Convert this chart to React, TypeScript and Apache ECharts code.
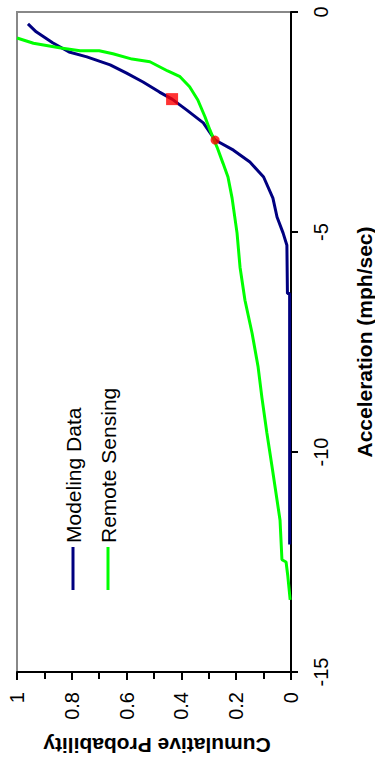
import React, { useEffect, useRef } from "react";
import * as echarts from "echarts";

const modelingProb = [0.96, 0.93, 0.87, 0.81, 0.745, 0.66, 0.6, 0.54, 0.48, 0.434, 0.38, 0.32, 0.277, 0.21, 0.15, 0.1, 0.066, 0.051, 0.029, 0.015, 0.013, 0.005, 0.005];
const modelingAccel = [-0.27, -0.45, -0.7, -0.91, -1.02, -1.2, -1.39, -1.59, -1.82, -1.98, -2.23, -2.52, -2.91, -3.14, -3.41, -3.75, -4.23, -4.66, -5.02, -5.3, -6.4, -6.4, -12.1];

const remoteProb = [1.0, 0.94, 0.84, 0.77, 0.7, 0.65, 0.58, 0.515, 0.45, 0.405, 0.37, 0.34, 0.314, 0.296, 0.27, 0.248, 0.23, 0.215, 0.197, 0.186, 0.168, 0.142, 0.12, 0.106, 0.088, 0.069, 0.051, 0.04, 0.033, 0.018, 0.012, 0.003];
const remoteAccel = [-0.59, -0.71, -0.82, -0.88, -0.88, -0.95, -1.07, -1.13, -1.34, -1.47, -1.7, -2.0, -2.38, -2.68, -3.07, -3.44, -3.75, -4.23, -5.02, -5.8, -6.55, -7.3, -8.07, -8.77, -9.57, -10.34, -11.09, -11.55, -12.45, -12.5, -12.8, -13.36];

const squareMarker = [0.434, -1.98];
const circleMarker = [0.277, -2.91];

const seriesNames = ["Modeling Data", "Remote Sensing"];
const seriesColors = ["#000080", "#00FF00"];

const xAxisTitle = "Cumulative Probability";
const yAxisTitle = "Acceleration (mph/sec)";

const FONT = "'Liberation Sans', Arial, sans-serif";

export default function App() {
  const ref = useRef<HTMLDivElement>(null);
  useEffect(() => {
    if (!ref.current) return;
    const chart = echarts.init(ref.current, null, { renderer: "svg" });
    const modeling = modelingProb.map((p, i) => [p, modelingAccel[i]]);
    const remote = remoteProb.map((p, i) => [p, remoteAccel[i]]);

    const legendItems = seriesNames.map((name, i) => ({
      type: "group",
      x: 73 + i * 35,
      y: 590,
      rotation: Math.PI / 2,
      children: [
        {
          type: "line",
          shape: { x1: 0, y1: 0, x2: 43, y2: 0 },
          style: { stroke: seriesColors[i], lineWidth: 3 },
        },
        {
          type: "text",
          x: 47,
          y: 0,
          style: {
            text: name,
            fontSize: 21,
            fontFamily: FONT,
            fill: "#000",
            align: "left",
            verticalAlign: "middle",
          },
        },
      ],
    }));

    chart.setOption({
      animation: false,
      backgroundColor: "#fff",
      grid: {
        left: 17,
        top: 12,
        right: 84,
        bottom: 89,
        show: true,
        borderColor: "#888",
        borderWidth: 2,
        backgroundColor: "#fff",
      },
      xAxis: {
        type: "value",
        min: 0,
        max: 1,
        interval: 0.2,
        inverse: true,
        position: "bottom",
        axisLine: { onZero: false, lineStyle: { color: "#000", width: 2 } },
        axisTick: { length: 8, lineStyle: { color: "#000", width: 2 } },
        minorTick: { show: true, splitNumber: 2, length: 7, lineStyle: { color: "#000", width: 2 } },
        splitLine: { show: false },
        axisLabel: {
          rotate: 90,
          margin: 20,
          fontSize: 20,
          fontFamily: FONT,
          color: "#000",
        },
      },
      yAxis: {
        type: "value",
        min: -15,
        max: 0,
        interval: 5,
        position: "right",
        axisLine: { show: true, onZero: false, lineStyle: { color: "#000", width: 2 } },
        axisTick: { show: true, length: 7, lineStyle: { color: "#000", width: 2 } },
        splitLine: { show: false },
        axisLabel: {
          rotate: 90,
          margin: 20,
          fontSize: 20,
          fontFamily: FONT,
          color: "#000",
        },
      },
      series: [
        {
          name: seriesNames[0],
          type: "line",
          data: modeling,
          showSymbol: false,
          lineStyle: { color: seriesColors[0], width: 3 },
          itemStyle: { color: seriesColors[0] },
          z: 2,
        },
        {
          name: seriesNames[1],
          type: "line",
          data: remote,
          showSymbol: false,
          lineStyle: { color: seriesColors[1], width: 3 },
          itemStyle: { color: seriesColors[1] },
          z: 3,
        },
        {
          type: "scatter",
          data: [squareMarker],
          symbol: "rect",
          symbolSize: 12,
          itemStyle: { color: "#FF0000" },
          z: 4,
        },
        {
          type: "scatter",
          data: [circleMarker],
          symbol: "circle",
          symbolSize: 9,
          itemStyle: { color: "#FF0000" },
          z: 4,
        },
      ],
      graphic: [
        {
          type: "text",
          x: 364,
          y: 342,
          rotation: Math.PI / 2,
          style: {
            text: yAxisTitle,
            fontSize: 21,
            fontWeight: "bold",
            fontFamily: FONT,
            fill: "#000",
            align: "center",
            verticalAlign: "middle",
          },
        },
        {
          type: "text",
          x: 157,
          y: 745,
          rotation: Math.PI,
          style: {
            text: xAxisTitle,
            fontSize: 21,
            fontWeight: "bold",
            fontFamily: FONT,
            fill: "#000",
            align: "center",
            verticalAlign: "middle",
          },
        },
        ...legendItems,
      ],
    });
    return () => chart.dispose();
  }, []);
  return (
    <div
      ref={ref}
      style={{ position: "fixed", left: 0, top: 0, width: 375, height: 761, background: "#fff" }}
    />
  );
}
